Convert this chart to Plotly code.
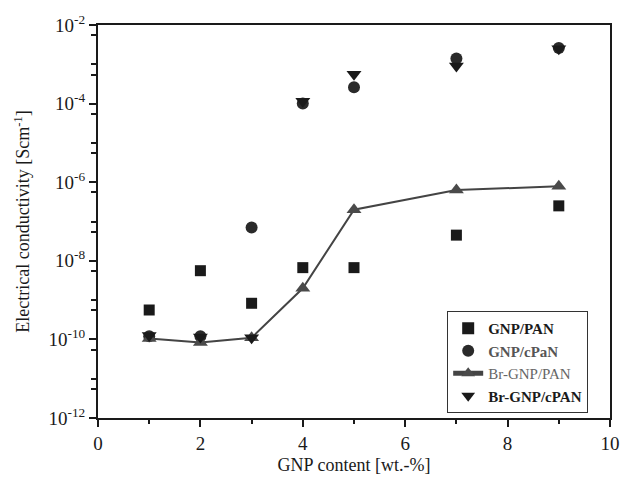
import plotly.graph_objects as go

gnp_content = [1, 2, 3, 4, 5, 7, 9]

gnp_pan = [5.6e-10, 5.6e-9, 8.3e-10, 6.7e-9, 6.7e-9, 4.5e-8, 2.5e-7]
gnp_cpan = [1.2e-10, 1.2e-10, 7.0e-8, 1.0e-4, 2.6e-4, 1.4e-3, 2.6e-3]
br_gnp_pan = [1.05e-10, 8.4e-11, 1.1e-10, 2.0e-9, 2.0e-7, 6.3e-7, 7.9e-7]
br_gnp_cpan = [1.25e-10, 1.15e-10, 1.1e-10, 1.15e-4, 5.6e-4, 9.0e-4, 2.5e-3]

label_exps = [-12, -10, -8, -6, -4, -2]
y_tick_vals = [10.0 ** e for e in label_exps]
y_tick_text = ["10<sup>%d</sup>" % e for e in label_exps]
y_minor_vals = [10.0 ** e for e in [-11, -9, -7, -5, -3]] + [5.5 * 10.0 ** e for e in range(-12, -2)]

x_tick_vals = [0, 2, 4, 6, 8, 10]
x_minor_vals = [1, 3, 5, 7, 9]

serif = "Liberation Serif, Times New Roman, serif"
ink = "#1a1a1a"

fig = go.Figure()
fig.add_trace(go.Scatter(
    x=gnp_content, y=gnp_pan, mode="markers", name="<b>GNP/PAN</b>",
    marker=dict(symbol="square", size=11, color=ink),
))
fig.add_trace(go.Scatter(
    x=gnp_content, y=gnp_cpan, mode="markers",
    name="<span style='color:#555555'><b>GNP/cPaN</b></span>",
    marker=dict(symbol="circle", size=12, color="#2a2a2a"),
))
fig.add_trace(go.Scatter(
    x=gnp_content, y=br_gnp_pan, mode="lines+markers",
    name="<span style='color:#666666'>Br-GNP/PAN</span>",
    line=dict(color="#444444", width=2),
    marker=dict(symbol="triangle-up", size=13, color="#4a4a4a"),
))
fig.add_trace(go.Scatter(
    x=gnp_content, y=br_gnp_cpan, mode="markers", name="<b>Br-GNP/cPAN</b>",
    marker=dict(symbol="triangle-down", size=13, color=ink),
))

fig.update_layout(
    width=632, height=484,
    margin=dict(l=98, r=13, t=23, b=61),
    paper_bgcolor="white", plot_bgcolor="white",
    font=dict(family=serif, color=ink, size=17),
    showlegend=True,
    legend=dict(
        x=0.682, y=0.272, xanchor="left", yanchor="top",
        bordercolor="#333333", borderwidth=1, bgcolor="white",
        font=dict(family=serif, size=15, color=ink),
        itemsizing="constant", tracegroupgap=0,
    ),
    xaxis=dict(
        range=[0, 10], tickvals=x_tick_vals, ticks="outside", ticklen=7, tickwidth=2,
        tickcolor=ink, showline=True, linewidth=2, linecolor=ink, mirror=True,
        showgrid=False, zeroline=False, tickfont=dict(size=19),
        minor=dict(tickvals=x_minor_vals, ticks="outside", ticklen=4, tickwidth=2, tickcolor=ink, showgrid=False),
        title=dict(text="GNP content [wt.-%]", font=dict(size=18), standoff=6),
    ),
    yaxis=dict(
        type="log", range=[-12, -2], tickvals=y_tick_vals, ticktext=y_tick_text,
        ticks="outside", ticklen=7, tickwidth=2, tickcolor=ink,
        showline=True, linewidth=2, linecolor=ink, mirror=True,
        showgrid=False, zeroline=False, tickfont=dict(size=19),
        minor=dict(tickvals=y_minor_vals, ticks="outside", ticklen=5, tickwidth=2, tickcolor=ink, showgrid=False),
        title=dict(text="Electrical conductivity [Scm<sup>-1</sup>]", font=dict(size=18), standoff=14),
    ),
)

fig.write_html("out.html")
